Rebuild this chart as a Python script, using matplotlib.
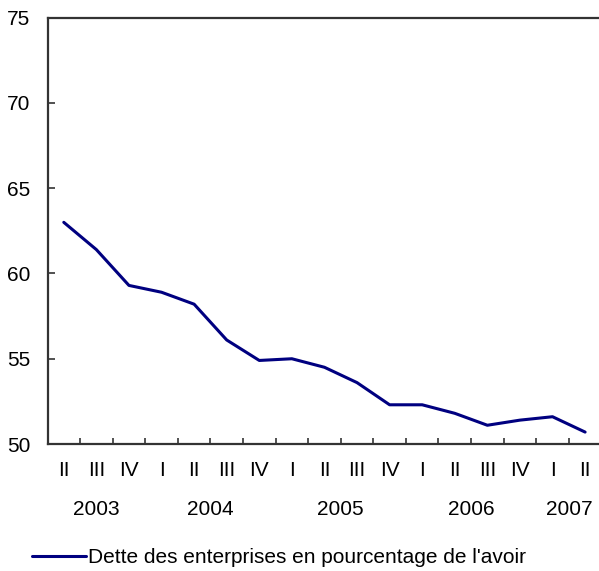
import numpy as np
import matplotlib
matplotlib.use("Agg")
import matplotlib.pyplot as plt

plt.rcParams['font.family'] = ['Liberation Sans', 'DejaVu Sans']

# quarterly values, 2003 Q2 to 2007 Q2
quarters = ["II", "III", "IV", "I", "II", "III", "IV", "I", "II", "III", "IV",
            "I", "II", "III", "IV", "I", "II"]
debt_pct = [63.0, 61.4, 59.3, 58.9, 58.2, 56.1, 54.9, 55.0, 54.5, 53.6, 52.3,
            52.3, 51.8, 51.1, 51.4, 51.6, 50.7]
years = ["2003", "2004", "2005", "2006", "2007"]
year_centers = [1, 4.5, 8.5, 12.5, 15.5]
series_name = "Dette des enterprises en pourcentage de l'avoir"

fig = plt.figure(figsize=(5.99, 5.71), dpi=100)
ax = fig.add_axes([0.0793, 0.2224, 0.9247, 0.7466])

x = np.arange(len(debt_pct))
line, = ax.plot(x, debt_pct, color="#000080", lw=2.2, solid_joinstyle="round",
                solid_capstyle="round", label=series_name)

ax.set_xlim(-0.5, len(x) - 0.5)
ax.set_ylim(50, 75)
ax.set_yticks(range(50, 76, 5))

# ticks sit between categories, labels at centers
ax.set_xticks(np.arange(0.5, len(x) - 0.5, 1))
ax.set_xticklabels([])
ax.set_xticks(x, minor=True)
ax.set_xticklabels(quarters, minor=True)
ax.tick_params(axis="x", which="major", direction="in", length=4, width=1.2, color="#333333")
ax.tick_params(axis="x", which="minor", length=0, pad=12, labelsize=15)
ax.tick_params(axis="y", direction="in", length=5, width=1.2, color="#333333",
               pad=12.5, labelsize=15)

for s in ax.spines.values():
    s.set_color("#333333")
    s.set_linewidth(1.6)

for yr, c in zip(years, year_centers):
    ax.text(c, -0.153, yr, transform=ax.get_xaxis_transform(), ha="center",
            va="center", fontsize=15)

fig.legend(handles=[line], loc="center left", bbox_to_anchor=(0.040, 0.023),
           frameon=False, fontsize=15, handlelength=2.6, handletextpad=0.05,
           borderaxespad=0)

fig.savefig("out.png", dpi=100)
